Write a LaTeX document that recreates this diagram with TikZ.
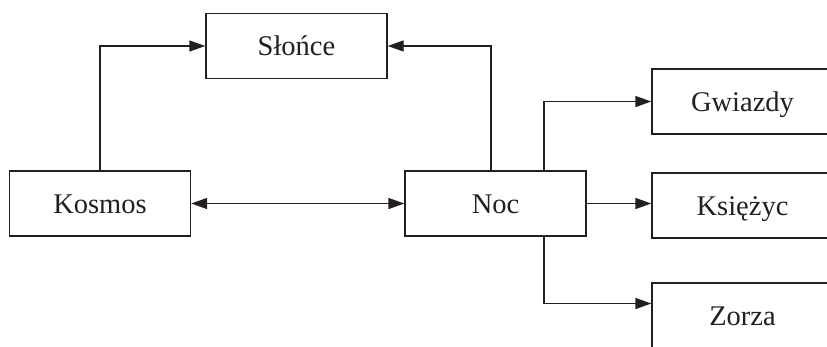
\documentclass[tikz,border=0pt]{standalone}
\usepackage{fontspec}
\setmainfont{Liberation Serif}
\usetikzlibrary{arrows.meta}
\definecolor{ink}{HTML}{231F20}
\tikzset{
  box/.style={draw=ink, line width=1.4pt, minimum width=181pt, minimum height=65pt,
    inner sep=0pt, text height=19pt, text depth=0pt, text=ink, font=\fontsize{28.5}{30}\selectfont},
  conn/.style={draw=ink, line width=1.4pt, -{Triangle[length=16pt,width=11pt]}},
  dconn/.style={draw=ink, line width=1.4pt, {Triangle[length=16pt,width=11pt]}-{Triangle[length=16pt,width=11pt]}}
}
\begin{document}
\begin{tikzpicture}[x=1pt,y=-1pt]
\useasboundingbox (0,0) rectangle (827,346);
\node[box] (slonce) at (296.5,46) {Słońce};
\node[box] (kosmos) at (100,203.5) {Kosmos};
\node[box] (noc) at (495.5,203.5) {Noc};
\node[box] (gwiazdy) at (742.5,101.5) {Gwiazdy};
\node[box] (ksiezyc) at (742.5,205.5) {Księżyc};
\node[box] (zorza) at (742.5,315.5) {Zorza};
\draw[conn] (kosmos.north) |- (slonce.west);
\draw[conn] ([xshift=-4.5pt]noc.north) |- (slonce.east);
\draw[conn] ([xshift=48.5pt]noc.north) |- (gwiazdy.west);
\draw[conn] (noc.east) -- (noc.east -| ksiezyc.west);
\draw[conn] ([xshift=48.5pt]noc.south) |- ([yshift=12pt]zorza.west);
\draw[dconn] (kosmos.east) -- (noc.west);
\end{tikzpicture}
\end{document}
